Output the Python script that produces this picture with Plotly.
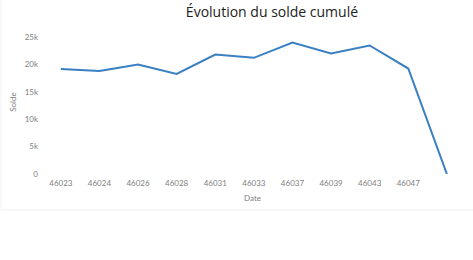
import plotly.graph_objects as go

dates = ["46023", "46024", "46026", "46028", "46031", "46033", "46037", "46039", "46043", "46047", ""]
solde = [19150, 18800, 20000, 18250, 21800, 21200, 24000, 22000, 23450, 19250, 0]

x_idx = list(range(len(dates)))

fig = go.Figure()
fig.add_trace(go.Scatter(
    x=x_idx, y=solde, mode="lines",
    line=dict(color="#3a7fc2", width=2),
    hoverinfo="skip",
))

fig.update_layout(
    width=473, height=260,
    margin=dict(l=45, r=13, t=30, b=86, autoexpand=False),
    paper_bgcolor="white", plot_bgcolor="white",
    showlegend=False,
    title=dict(text="Évolution du solde cumulé", x=0.575, xref="container", xanchor="center",
               y=0.955, yref="container", yanchor="middle",
               font=dict(family="Open Sans", size=14, color="#222222")),
    xaxis=dict(
        automargin=False,
        tickmode="array", tickvals=x_idx[:-1], ticktext=dates[:-1],
        range=[-0.41, 10.34], showgrid=False, zeroline=False, showline=False,
        ticks="", ticklabelstandoff=3, tickfont=dict(family="Lato", size=8, color="#808080"),
        title=dict(text="Date", font=dict(family="Lato", size=8, color="#808080"), standoff=8),
    ),
    yaxis=dict(
        automargin=False,
        range=[0, 26280], tickvals=[0, 5000, 10000, 15000, 20000, 25000],
        ticktext=["0", "5k", "10k", "15k", "20k", "25k"],
        showgrid=False, zeroline=False, showline=False, ticks="",
        tickfont=dict(family="Lato", size=8, color="#808080"),
        ticklabelstandoff=6,
        title=dict(text="Solde", font=dict(family="Lato", size=8, color="#808080"), standoff=6),
    ),
    shapes=[
        dict(type="line", xref="paper", yref="paper", x0=-0.106, x1=1.04, y0=-0.25, y1=-0.25,
             line=dict(color="#eeeeee", width=1)),
        dict(type="line", xref="paper", yref="paper", x0=-0.106, x1=-0.106, y0=-0.25, y1=1.3,
             line=dict(color="#f3f3f3", width=1)),
    ],
)

fig.write_html("out.html")
